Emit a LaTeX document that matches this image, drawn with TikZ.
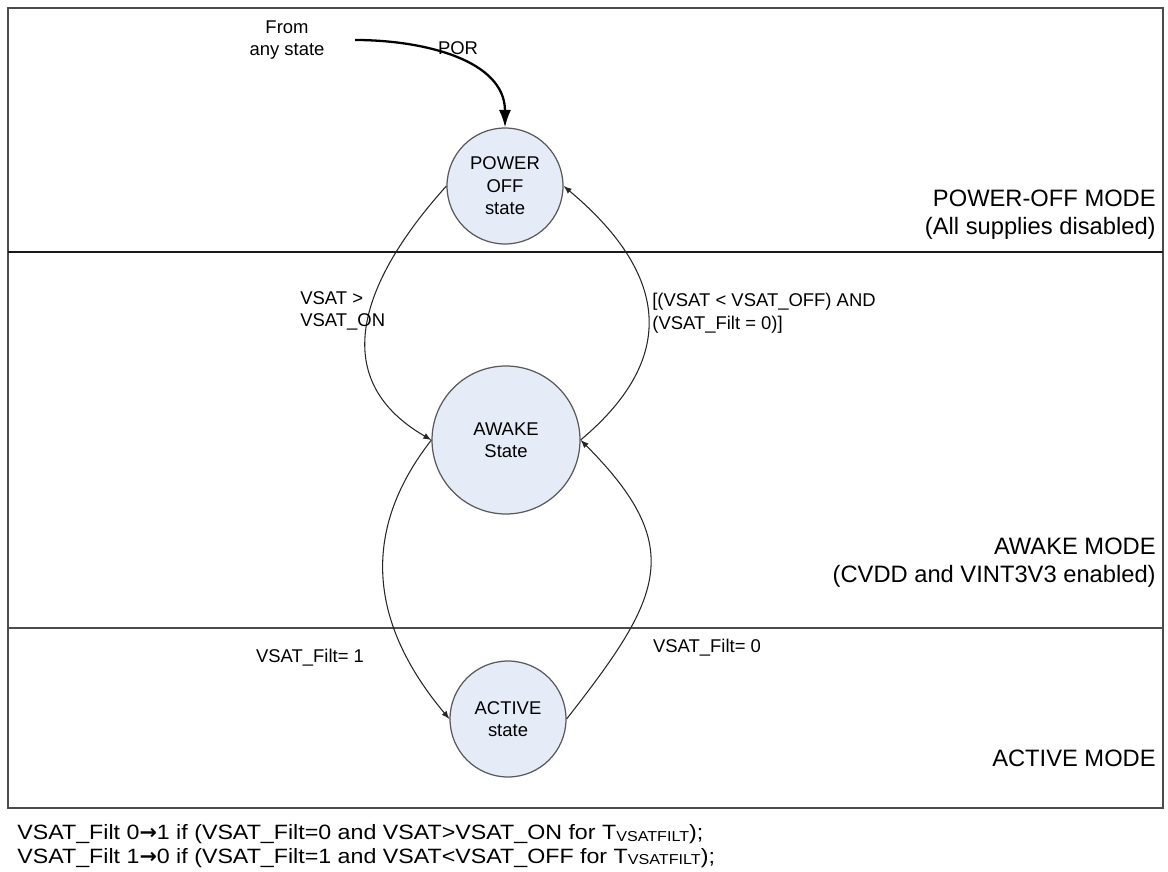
\documentclass[tikz,border=0pt]{standalone}
\usepackage{fontspec}
\setmainfont{Liberation Sans}
\newfontfamily\notefont[FakeStretch=1.12]{Liberation Sans}
\newfontfamily\arrowfont{DejaVu Sans}
\usetikzlibrary{
    arrows,
    arrows.meta,
    positioning
}
\definecolor{statefill}{RGB}{229,235,247}
\newcommand{\tfilt}{T\raisebox{-0.15ex}{\fontsize{8.2}{9}\selectfont VSATFILT}}
\newcommand{\toarrow}{{\arrowfont\bfseries →}}

\begin{document}
\begin{tikzpicture}[x=0.02cm, y=-0.02cm,
    state/.style={circle, draw=black!65, fill=statefill, line width=0.7pt,
        align=center, inner sep=0pt, font=\fontsize{10.5}{12.8}\selectfont},
    lbl/.style={inner sep=0pt, align=left, font=\fontsize{10.5}{12.8}\selectfont},
    mode/.style={inner sep=0pt, anchor=east, align=right, font=\fontsize{13.5}{16}\selectfont},
    trans/.style={->, >=latex, draw=black!85, line width=0.6pt}
]
    \useasboundingbox (0, 0) rectangle (1168, 871);
    % mode frame
    \draw[black!70, line width=0.8pt] (8, 8) rectangle (1163, 808);
    \draw[black!90, line width=1.3pt] (8, 252) -- (1163, 252);
    \draw[black!70, line width=0.8pt] (8, 628) -- (1163, 628);

    % states
    \node[state, minimum size=2.32cm] (poff) at (505, 186) {POWER\\OFF\\state};
    \node[state, minimum size=2.96cm] (awake) at (506, 440) {AWAKE\\State};
    \node[state, minimum size=2.32cm] (active) at (508, 719) {ACTIVE\\state};

    % reset entry
    \node[lbl, align=center] (any) at (287, 40) {From\\any state};
    \coordinate (porstart) at (355, 40);
    \node[lbl] (por) at (458, 48) {POR};
    \draw[-{Latex[length=10pt, width=7pt]}, line width=1.3pt] (porstart) to[out=0, in=90] (poff.north);

    % transitions
    \draw[trans] (poff.west) to[out=228, in=150, looseness=1.25] (awake.west);
    \draw[trans] (awake.east) to[out=40, in=-40, looseness=1.33] (poff.east);
    \draw[trans] (awake.west) to[out=232, in=130, looseness=1.1] (active.west);
    \draw[trans] (active.east) to[out=52, in=-45, looseness=1.4] (awake.east);

    \node[lbl, anchor=west] (on) at (300, 311) {VSAT >\\VSAT\_ON};
    \node[lbl, anchor=west] (off) at (652, 313) {[(VSAT < VSAT\_OFF) AND\\(VSAT\_Filt = 0)]};
    \node[lbl] (filt1) at (310, 658) {VSAT\_Filt= 1};
    \node[lbl] (filt0) at (707, 648) {VSAT\_Filt= 0};

    % modes
    \node[mode] (offmode) at (1156, 215) {POWER-OFF MODE\\(All supplies disabled)};
    \node[mode] (awakemode) at (1156, 563) {AWAKE MODE\\(CVDD and VINT3V3 enabled)};
    \node[mode] (activemode) at (1156, 758) {ACTIVE MODE};

    % filter note
    \node[inner sep=0pt, anchor=west, align=left, font=\notefont\fontsize{11.8}{13.6}\selectfont] (note) at (17, 846)
        {VSAT\_Filt 0\toarrow1 if (VSAT\_Filt=0 and VSAT>VSAT\_ON for \tfilt);\\
         VSAT\_Filt 1\toarrow0 if (VSAT\_Filt=1 and VSAT<VSAT\_OFF for \tfilt);};
\end{tikzpicture}
\end{document}
